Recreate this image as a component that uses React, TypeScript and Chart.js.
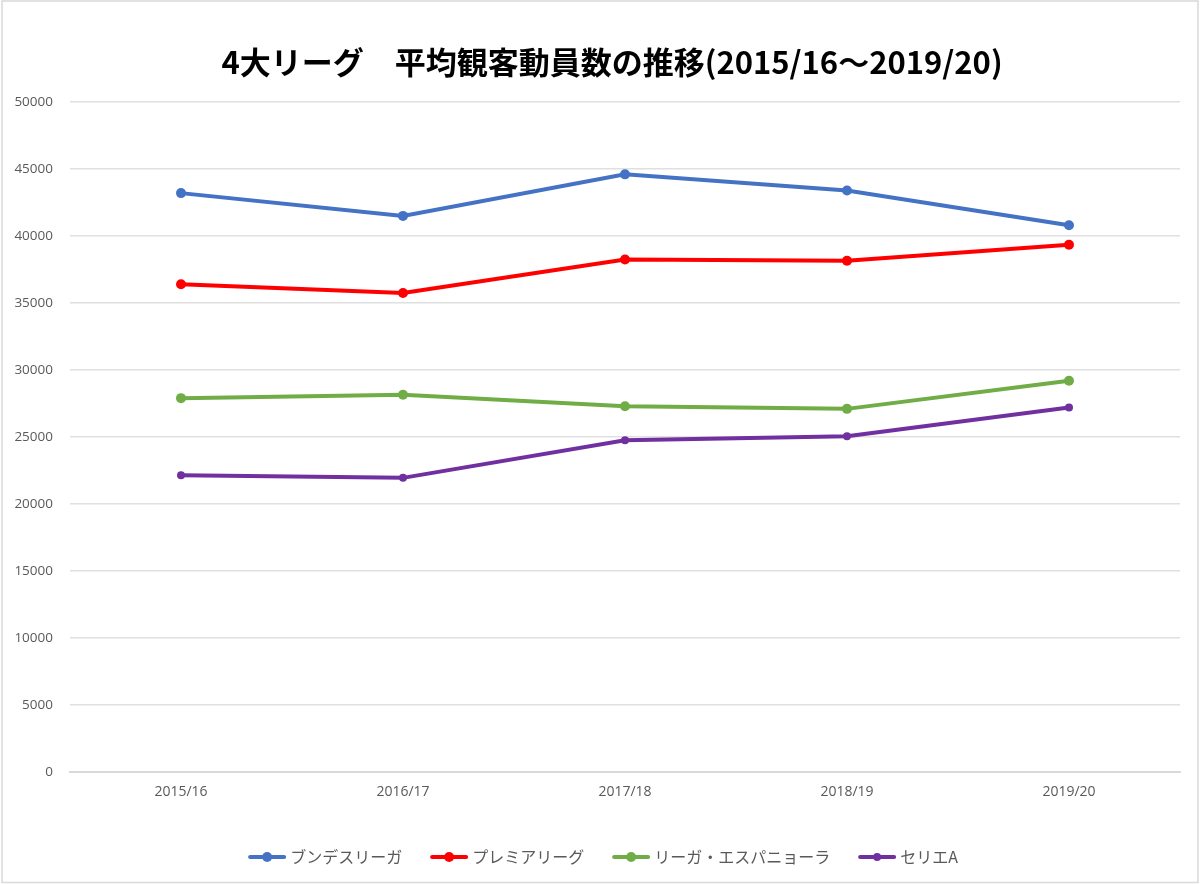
import React, { useEffect, useRef } from "react";
import { Chart, registerables } from "chart.js";

Chart.register(...registerables);

const TITLE = "4大リーグ　平均観客動員数の推移(2015/16～2019/20)";
const SEASONS = ["2015/16", "2016/17", "2017/18", "2018/19", "2019/20"];
const LEAGUES = ["ブンデスリーガ", "プレミアリーグ", "リーガ・エスパニョーラ", "セリエA"];
const BUNDESLIGA = [43200, 41500, 44600, 43400, 40800];
const PREMIER = [36400, 35750, 38250, 38150, 39350];
const LALIGA = [27900, 28150, 27300, 27100, 29200];
const SERIEA = [22150, 21950, 24750, 25050, 27200];
const Y_TICK_STEP = 5000;
const Y_MAX = 50000;

const COLORS = ["#4472C4", "#FF0000", "#70AD47", "#7030A0"];
const POINT_RADII = [5, 5, 5, 4];

const GREY_TEXT = "#595959";
const CJK = "'Noto Sans CJK JP', 'Noto Sans', sans-serif";

const framePlugin = {
  id: "frame",
  beforeDraw(chart: any) {
    const ctx = chart.ctx;
    ctx.save();
    ctx.fillStyle = "#ffffff";
    ctx.fillRect(0, 0, chart.width, chart.height);
    ctx.strokeStyle = "#d9d9d9";
    ctx.lineWidth = 1.5;
    ctx.strokeRect(2, 1, chart.width - 4, chart.height - 2.5);
    ctx.restore();
  },
};

const titlePlugin = {
  id: "customTitle",
  afterDraw(chart: any) {
    const ctx = chart.ctx;
    ctx.save();
    ctx.font = `bold 31px ${CJK}`;
    ctx.fillStyle = "#000000";
    ctx.textAlign = "center";
    ctx.textBaseline = "middle";
    ctx.fillText(TITLE, 612, 62);
    ctx.restore();
  },
};

const legendPlugin = {
  id: "customLegend",
  afterDraw(chart: any) {
    const ctx = chart.ctx;
    const datasets = chart.data.datasets;
    ctx.save();
    ctx.font = `16px ${CJK}`;
    const lineLen = 38;
    const gapText = 4;
    const gapItem = 28;
    const widths = datasets.map((d: any) => lineLen + gapText + ctx.measureText(d.label).width);
    const total = widths.reduce((a: number, b: number) => a + b, 0) + gapItem * (datasets.length - 1);
    let x = 603 - total / 2;
    const y = 857;
    datasets.forEach((d: any, i: number) => {
      ctx.strokeStyle = d.borderColor;
      ctx.lineWidth = 4;
      ctx.lineCap = "round";
      ctx.beginPath();
      ctx.moveTo(x + 2, y);
      ctx.lineTo(x + lineLen - 2, y);
      ctx.stroke();
      ctx.fillStyle = d.borderColor;
      ctx.beginPath();
      ctx.arc(x + lineLen / 2, y, d.pointRadius, 0, Math.PI * 2);
      ctx.fill();
      ctx.fillStyle = GREY_TEXT;
      ctx.textAlign = "left";
      ctx.textBaseline = "middle";
      ctx.fillText(d.label, x + lineLen + gapText, y);
      x += widths[i] + gapItem;
    });
    ctx.restore();
  },
};

export default function App() {
  const canvasRef = useRef<HTMLCanvasElement | null>(null);

  useEffect(() => {
    if (!canvasRef.current) return;
    const series = [BUNDESLIGA, PREMIER, LALIGA, SERIEA];
    const chart = new Chart(canvasRef.current, {
      type: "line",
      data: {
        labels: SEASONS,
        datasets: LEAGUES.map((name, i) => ({
          label: name,
          data: series[i],
          borderColor: COLORS[i],
          backgroundColor: COLORS[i],
          pointBackgroundColor: COLORS[i],
          pointBorderColor: COLORS[i],
          pointRadius: POINT_RADII[i],
          pointBorderWidth: 0,
          borderWidth: 4,
          tension: 0,
          fill: false,
        })),
      },
      options: {
        responsive: false,
        animation: false,
        devicePixelRatio: 1,
        layout: { padding: { top: 102, right: 20, bottom: 0, left: 0 } },
        plugins: {
          legend: { display: false },
          title: { display: false },
          tooltip: { enabled: false },
        },
        scales: {
          x: {
            offset: true,
            grid: { display: false, drawTicks: false },
            border: { display: true, color: "#d9d9d9", width: 2 },
            ticks: {
              color: GREY_TEXT,
              padding: 12,
              font: { family: "'Liberation Sans Narrow', 'Open Sans', sans-serif", size: 14 },
            },
            afterFit(scale: any) {
              scale.height = 112;
            },
          },
          y: {
            min: 0,
            max: Y_MAX,
            ticks: {
              stepSize: Y_TICK_STEP,
              color: GREY_TEXT,
              padding: 17,
              font: { family: "'Open Sans', sans-serif", size: 13.5 },
              callback: (v: any) => String(v),
            },
            grid: { color: "#e0e0e0", lineWidth: 1.5, drawTicks: false },
            border: { display: false },
            afterFit(scale: any) {
              scale.width = 70;
            },
          },
        },
      },
      plugins: [framePlugin, titlePlugin, legendPlugin],
    });
    return () => chart.destroy();
  }, []);

  return (
    <div style={{ position: "fixed", left: 0, top: 0, width: 1200, height: 884, background: "#fff" }}>
      <canvas ref={canvasRef} width={1200} height={884} style={{ width: 1200, height: 884, display: "block" }} />
    </div>
  );
}
